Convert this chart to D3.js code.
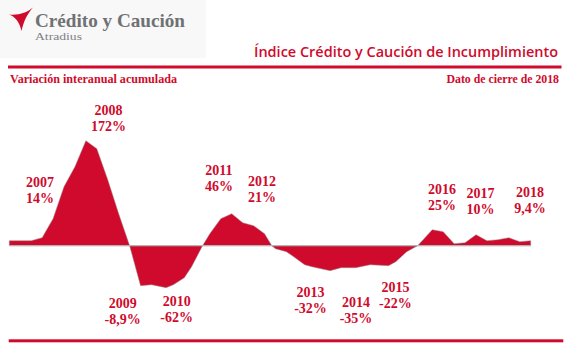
<!DOCTYPE html>
<html><head><meta charset="utf-8">
<script src="https://cdn.jsdelivr.net/npm/d3@7/dist/d3.min.js"></script>
<style>
html,body{margin:0;padding:0;background:#fff;}
svg{display:block;}
</style></head>
<body>
<script>
// ---- Data (months since Jan 2007, index variation in chart units) ----
const months = [0,6,9,12,15,18,21,24,27,30,33,36,39,43,45,48,50,53,55,58,61,64,67,70,72,73,76,78,81,83,88,91,95,99,104,106,109,112,113,116,119,122,125,128,131,134,137,140,143];
const values = [5,5,8,27,59,79,105,97,66,32,0,-40,-39,-42,-39,-32,-21,0,12,27,32,23,20,12,0,-3,-6,-11,-19,-21,-25,-22,-22,-19,-20,-16,-6,0,4,16,14,2,3,11,5,6,8,4,5];

const labelYears = ["2007","2008","2009","2010","2011","2012","2013","2014","2015","2016","2017","2018"];
const labelValues = ["14%","172%","-8,9%","-62%","46%","21%","-32%","-35%","-22%","25%","10%","9,4%"];
// annotation anchors in data space (month, value)
const labelMonth = [8.4,27.2,31.1,45.9,57.5,69.3,82.6,95.1,105.9,118.7,129.2,142.8];
const labelAt    = [58.7,130.7,-62,-60.3,70.7,59.7,-51.3,-61.6,-46,51.7,47.4,48.4];

const titleText = "Índice Crédito y Caución de Incumplimiento";
const subLeft = "Variación interanual acumulada";
const subRight = "Dato de cierre de 2018";

// ---- Layout ----
const W = 578, H = 353;
const RED = "#cf0a2c";
const svg = d3.select("body").append("svg").attr("width", W).attr("height", H);

const x = d3.scaleLinear().domain([0,143]).range([9.3,530.7]);
const y = d3.scaleLinear().domain([-100,150]).range([345.7,95.7]);

// Logo panel
svg.append("rect").attr("x",0).attr("y",0).attr("width",206).attr("height",58).attr("fill","#f8f8f8");
svg.append("path")
  .attr("d","M33,7.5 C27,12.5 19,15.5 9,14.5 C15.5,17 19.5,22 21.5,31 C23.5,22 27,14 33,7.5 Z")
  .attr("fill",RED);
svg.append("text").attr("x",35).attr("y",26.5)
  .attr("font-family","Liberation Serif, serif").attr("font-weight","bold").attr("font-size",19)
  .attr("fill","#707173").attr("textLength",150).attr("lengthAdjust","spacingAndGlyphs")
  .text("Crédito y Caución");
svg.append("text").attr("x",35).attr("y",40)
  .attr("font-family","Liberation Serif, serif").attr("font-size",10.5)
  .attr("fill","#808184").attr("textLength",47).attr("lengthAdjust","spacingAndGlyphs")
  .text("Atradius");

// Title
svg.append("text").attr("x",558).attr("y",57).attr("text-anchor","end")
  .attr("font-family","Open Sans, sans-serif").attr("font-weight",600).attr("font-size",14.5)
  .attr("fill",RED).attr("textLength",304).attr("lengthAdjust","spacingAndGlyphs")
  .text(titleText);

// Rules
svg.append("rect").attr("x",8).attr("y",65.5).attr("width",553.5).attr("height",3).attr("fill",RED);
svg.append("rect").attr("x",8.7).attr("y",339.3).attr("width",554.6).attr("height",3).attr("fill",RED);

// Subtitles
svg.append("text").attr("x",10).attr("y",83)
  .attr("font-family","Liberation Serif, serif").attr("font-weight","bold").attr("font-size",11.5)
  .attr("fill",RED).attr("textLength",167).attr("lengthAdjust","spacingAndGlyphs")
  .text(subLeft);
svg.append("text").attr("x",559).attr("y",83).attr("text-anchor","end")
  .attr("font-family","Liberation Serif, serif").attr("font-weight","bold").attr("font-size",11.5)
  .attr("fill",RED).attr("textLength",112.5).attr("lengthAdjust","spacingAndGlyphs")
  .text(subRight);

// Area
const data = months.map((m,i)=>({m, v:values[i]}));
const area = d3.area().x(d=>x(d.m)).y0(y(0)).y1(d=>y(d.v));
svg.append("path").datum(data).attr("d",area)
  .attr("fill",RED).attr("stroke","#9a8a8c").attr("stroke-width",0.5);

// Zero line
svg.append("line").attr("x1",x(0)).attr("x2",x(143)).attr("y1",y(0)).attr("y2",y(0))
  .attr("stroke","#b3b3b3").attr("stroke-width",1.2);

// Labels
const lab = svg.append("g").attr("font-family","Liberation Serif, serif").attr("font-weight","bold")
  .attr("font-size",14).attr("fill",RED).attr("text-anchor","middle");
labelYears.forEach((yr,i)=>{
  const cx = x(labelMonth[i]), by = y(labelAt[i]);
  lab.append("text").attr("x",cx).attr("y",by).text(yr);
  lab.append("text").attr("x",cx).attr("y",by+16).text(labelValues[i]);
});
</script>
</body></html>
